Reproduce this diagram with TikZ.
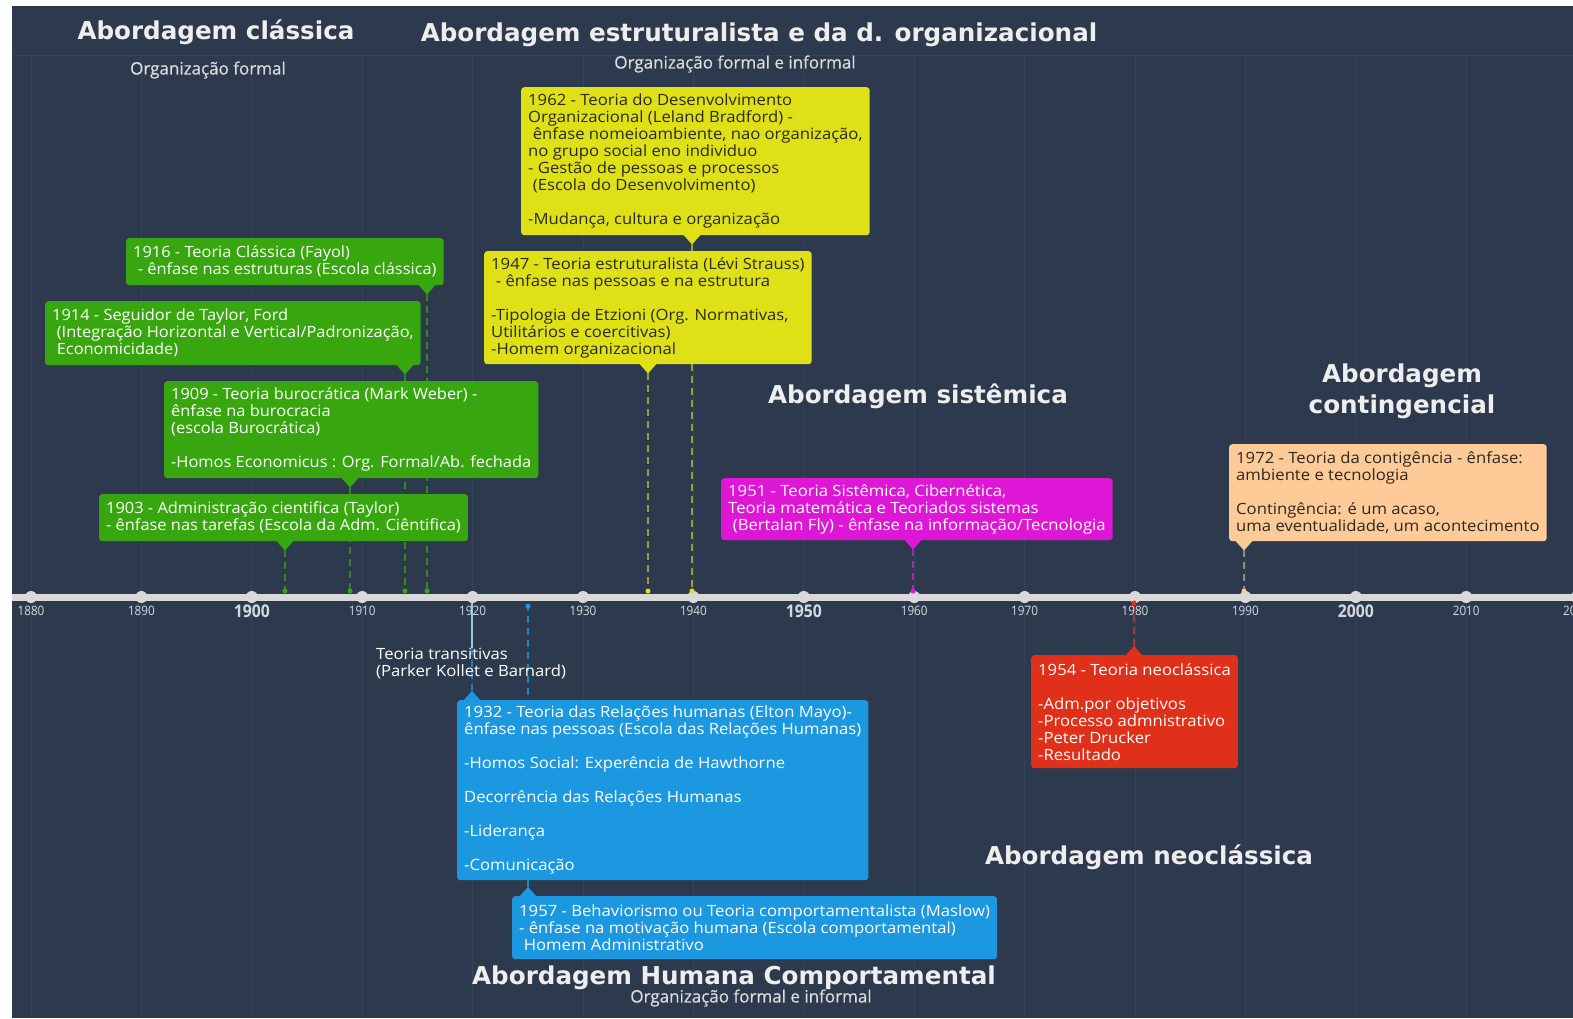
\documentclass[tikz,border=0pt]{standalone}
\usepackage{fontspec}
\setmainfont{Open Sans}
\newfontfamily\boxfont[FakeStretch=1.075]{Open Sans}
\newfontfamily\greenfont[FakeStretch=1.058]{Open Sans}
\newfontfamily\condfont[FakeStretch=0.9]{Open Sans}
\newfontfamily\subfont[FakeBold=0.5]{Open Sans}
\newfontfamily\headfont{DejaVu Sans}
\usetikzlibrary{calc}
\definecolor{bgc}{HTML}{2D3A4D}
\definecolor{gridc}{HTML}{34435A}
\definecolor{axisc}{HTML}{D9D9D9}
\definecolor{cgreen}{HTML}{38A70F}
\definecolor{cyellow}{HTML}{DFE015}
\definecolor{cmag}{HTML}{DE17D6}
\definecolor{cpeach}{HTML}{FECA97}
\definecolor{cpeachline}{HTML}{8C8A80}
\definecolor{cred}{HTML}{E03019}
\definecolor{cblue}{HTML}{1B98DF}
\definecolor{headc}{HTML}{EEEEEE}
\definecolor{subc}{HTML}{DCDCDC}
\definecolor{darkt}{HTML}{2A2A20}
\definecolor{tickt}{HTML}{D5DAE0}
\pgfdeclarelayer{back}
\pgfdeclarelayer{lines}
\pgfsetlayers{back,lines,main}
\begin{document}
\begin{tikzpicture}[x=1pt,y=-1pt,
  evbox/.style={fill=#1,rounded corners=3pt,inner xsep=7pt,inner ysep=5pt,align=left,anchor=north west,text=white,font={\boxfont\fontsize{15.5}{17}\selectfont}},
  greenbox/.style={evbox=cgreen,font={\greenfont\fontsize{15.5}{17}\selectfont}},
  darkbox/.style={text=darkt},
  ptrline/.style={#1,line width=1.3pt,dash pattern=on 7pt off 5pt},
  axdot/.style={fill=#1,circle,inner sep=0pt,minimum size=5pt},
  heading/.style={text=headc,font={\headfont\bfseries\fontsize{24.6}{31}\selectfont},align=center},
  subtitle/.style={text=subc,font={\subfont\fontsize{17}{19}\selectfont}},
  ticklab/.style={text=tickt,font={\condfont\fontsize{13}{14}\selectfont},anchor=north},
  bigtick/.style={text=tickt,font={\condfont\bfseries\fontsize{17.5}{18}\selectfont},anchor=north},
  tickdot/.style={fill=axisc,circle,inner sep=0pt,minimum size=12pt}
]
\useasboundingbox (0,0) rectangle (1573,1018);
\begin{pgfonlayer}{back}
\fill[white] (0,0) rectangle (1573,1018);
\fill[bgc] (12,6) rectangle (1573,1018);
\foreach \i in {0,...,14} \draw[gridc,line width=1pt] ({31+\i*110.4},55) -- ({31+\i*110.4},1018);
\draw[gridc,line width=1pt] (12,55) -- (1573,55);
\end{pgfonlayer}

% headings
\node[heading] (h1) at (216,32) {Abordagem clássica};
\node[subtitle] (s1) at (208,70) {Organização formal};
\node[heading] (h2) at (759,35) {Abordagem estruturalista e da d. organizacional};
\node[subtitle] (s2) at (735,64) {Organização formal e informal};
\node[heading] (h3) at (918,396) {Abordagem sistêmica};
\node[heading] (h4) at (1402,391) {Abordagem\\contingencial};
\node[heading] (h5) at (1149,857) {Abordagem neoclássica};
\node[heading] (h6) at (734,978) {Abordagem Humana Comportamental};
\node[subtitle] (s6) at (751,998) {Organização formal e informal};

% axis
\draw[axisc,line width=7pt] (12,597) -- (1573,597);
\foreach \y [count=\i from 0] in {1880,1890,1900,1910,1920,1930,1940,1950,1960,1970,1980,1990,2000,2010,2020}{
  \node[tickdot] (d\y) at ({31+\i*110.4},597) {};
}
\foreach \y/\i in {1880/0,1890/1,1910/3,1920/4,1930/5,1940/6,1960/8,1970/9,1980/10,1990/11,2010/13,2020/14}{
  \node[ticklab] (l\y) at ({31+\i*110.4},603) {\y};
}
\foreach \y/\i in {1900/2,1950/7,2000/12}{
  \node[bigtick] (l\y) at ({31+\i*110.4},601) {\y};
}

% pointer x positions
\coordinate (p1916) at (427,0);
\coordinate (p1914) at (405,0);
\coordinate (p1909) at (350,0);
\coordinate (p1903) at (285,0);
\coordinate (p1962) at (692,0);
\coordinate (p1947) at (648,0);
\coordinate (p1951) at (913,0);
\coordinate (p1972) at (1244,0);
\coordinate (p1954) at (1134,0);
\coordinate (p1932) at (472,0);
\coordinate (p1957) at (528,0);

% boxes above the axis
\node[greenbox,minimum height=47pt] (b1916) at (126,238)
 {1916 - Teoria Clássica (Fayol)\\\hspace{0.3em}- ênfase nas estruturas (Escola clássica)};
\node[greenbox,minimum height=64pt] (b1914) at (45,301)
 {1914 - Seguidor de Taylor, Ford\\\hspace{0.3em}(Integração Horizontal e Vertical/Padronização,\\\hspace{0.3em}Economicidade)};
\node[greenbox,minimum height=97pt] (b1909) at (164,381)
 {1909 - Teoria burocrática (Mark Weber) -\\ênfase na burocracia\\(escola Burocrática)\\[17pt]-Homos Economicus : Org. Formal/Ab. fechada};
\node[greenbox,minimum height=47pt] (b1903) at (99,494)
 {1903 - Administração cientifica (Taylor)\\- ênfase nas tarefas (Escola da Adm. Ciêntifica)};
\node[evbox=cyellow,darkbox,minimum height=148pt] (b1962) at (521,87)
 {1962 - Teoria do Desenvolvimento\\Organizacional (Leland Bradford) -\\\hspace{0.3em}ênfase nomeioambiente, nao organização,\\no grupo social eno individuo\\- Gestão de pessoas e processos\\\hspace{0.3em}(Escola do Desenvolvimento)\\[17pt]-Mudança, cultura e organização};
\node[evbox=cyellow,darkbox,minimum height=113pt] (b1947) at (484,251)
 {1947 - Teoria estruturalista (Lévi Strauss)\\\hspace{0.3em}- ênfase nas pessoas e na estrutura\\[17pt]-Tipologia de Etzioni (Org. Normativas,\\Utilitários e coercitivas)\\-Homem organizacional};
\node[evbox=cmag,minimum height=62pt] (b1951) at (721,478)
 {1951 - Teoria Sistêmica, Cibernética,\\Teoria matemática e Teoriados sistemas\\\hspace{0.3em}(Bertalan Fly) - ênfase na informação/Tecnologia};
\node[evbox=cpeach,darkbox,minimum height=97pt] (b1972) at (1229,444)
 {1972 - Teoria da contigência - ênfase:\\ambiente e tecnologia\\[17pt]Contingência: é um acaso,\\uma eventualidade, um acontecimento};

% boxes below the axis
\node[evbox=cred,minimum height=113pt] (b1954) at (1031,655)
 {1954 - Teoria neoclássica\\[17pt]-Adm.por objetivos\\-Processo admnistrativo\\-Peter Drucker\\-Resultado};
\node[evbox=cblue,minimum height=180pt] (b1932) at (457,700)
 {1932 - Teoria das Relações humanas (Elton Mayo)-\\ênfase nas pessoas (Escola das Relações Humanas)\\[17pt]-Homos Social: Experência de Hawthorne\\[17pt]Decorrência das Relações Humanas\\[17pt]-Liderança\\[17pt]-Comunicação};
\node[evbox=cblue,minimum height=63pt] (b1957) at (512,896)
 {1957 - Behaviorismo ou Teoria comportamentalista (Maslow)\\- ênfase na motivação humana (Escola comportamental)\\\hspace{0.3em}Homem Administrativo};

\node[anchor=north west,text=white,align=left,inner sep=0pt,font={\boxfont\fontsize{15.5}{17}\selectfont}] (ttrans) at (376,648)
 {Teoria transitivas\\(Parker Kollet e Barnard)};

% pointers (downward)
\foreach \n/\c in {1916/cgreen,1914/cgreen,1909/cgreen,1903/cgreen,1962/cyellow,1947/cyellow,1951/cmag,1972/cpeach}{
  \fill[\c] ($(p\n |- b\n.south)+(-9,-1)$) -- ++(9,10) coordinate (tip\n) -- ++(9,-10) -- cycle;
}
% pointers (upward)
\foreach \n/\c in {1954/cred,1932/cblue,1957/cblue}{
  \fill[\c] ($(p\n |- b\n.north)+(-9,1)$) -- ++(9,-10) coordinate (tip\n) -- ++(9,10) -- cycle;
}

% axis anchor points
\foreach \n/\x in {1916/427,1914/405,1909/350,1903/285,1962/692,1947/648,1951/913,1972/1244}{
  \coordinate (a\n) at (\x,591);
}
\coordinate (a1954) at (1134,603);
\coordinate (a1932) at (472,603);
\coordinate (a1957) at (528,606);

\begin{pgfonlayer}{lines}
\foreach \n/\c in {1916/cgreen!70!bgc,1914/cgreen!70!bgc,1909/cgreen!70!bgc,1903/cgreen!70!bgc,1962/cyellow!60!bgc,1947/cyellow!60!bgc,1951/cmag!75!bgc,1972/cpeachline,1954/cred!75!bgc,1932/cblue!70!bgc,1957/cblue!80!bgc}{
  \draw[ptrline=\c] (tip\n) -- (a\n);
}
\draw[line width=1.3pt,color=axisc!70!cblue] (a1932) -- (ttrans.north -| a1932);
\end{pgfonlayer}
\foreach \n/\c in {1916/cgreen,1914/cgreen,1909/cgreen,1903/cgreen,1962/cyellow,1947/cyellow,1951/cmag,1972/cpeach,1954/cred,1957/cblue}{
  \node[axdot=\c] (dot\n) at (a\n) {};
}
\end{tikzpicture}
\end{document}
